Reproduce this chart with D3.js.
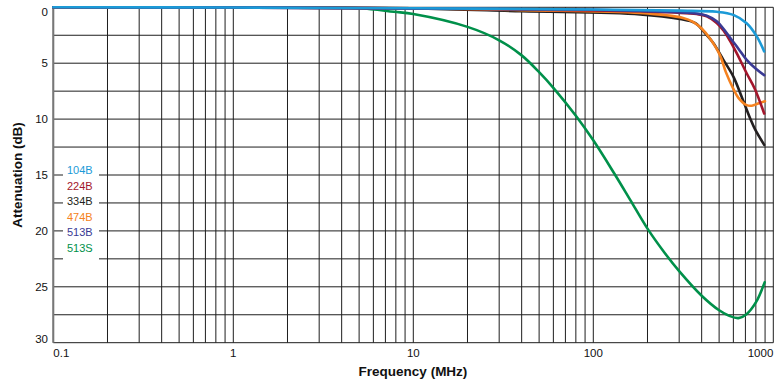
<!DOCTYPE html>
<html>
<head>
<meta charset="utf-8">
<script src="https://cdn.jsdelivr.net/npm/d3@7"></script>
<style>
  html, body { margin: 0; padding: 0; background: #fff; }
  svg { display: block; font-family: "Liberation Sans", Arial, sans-serif; }
</style>
</head>
<body>
<svg id="chart" width="784" height="386"></svg>
<script>
// ---------- data ----------
const xTickValues = [0.1, 1, 10, 100, 1000];
const xTickLabels = ["0.1", "1", "10", "100", "1000"];
const yTickValues = [0, 5, 10, 15, 20, 25, 30];
const yGridValues = [0, 2.5, 5, 7.5, 10, 12.5, 15, 17.5, 20, 22.5, 25, 27.5, 30];

const seriesNames = ["104B", "224B", "334B", "474B", "513B", "513S"];
const seriesColors = ["#1b9ad7", "#a3162c", "#231f20", "#f58220", "#3a3a94", "#00904a"];

// [frequency MHz, attenuation dB]
const s104B = [[0.1,0],[1,0.02],[10,0.08],[100,0.2],[300,0.3],[485,0.4],[600,0.68],[711,1.43],[809,2.6],[890,3.95]];
const s224B = [[0.1,0],[1,0.02],[10,0.1],[100,0.28],[182,0.36],[375,0.6],[427,0.8],[485,1.4],[530,2.1],[575,3.0],[626,4.1],[711,5.9],[790,7.3],[890,9.5]];
const s334B = [[0.1,0],[1,0.02],[10,0.1],[40,0.35],[182,0.63],[303,1.05],[367,1.4],[427,2.5],[464,3.2],[528,4.7],[600,6.2],[667,8.0],[742,9.9],[791,10.9],[890,12.3]];
const s474B = [[0.1,0],[1,0.02],[10,0.08],[40,0.25],[182,0.5],[315,0.95],[358,1.3],[400,1.9],[445,2.8],[506,4.3],[545,5.8],[600,7.3],[640,8.1],[711,8.75],[760,8.8],[825,8.6],[899,8.4]];
const s513B = [[0.1,0],[1,0.02],[10,0.1],[100,0.22],[182,0.33],[344,0.5],[427,0.75],[485,1.25],[530,1.95],[580,2.8],[640,3.7],[711,4.7],[800,5.5],[890,6.07]];
const s513S = [[0.1,0],[1,0],[3,0.01],[5.1,0.08],[7.8,0.4],[10,0.6],[20,1.75],[30,2.95],[40,4.3],[50,5.8],[60,7.2],[80,9.7],[100,11.9],[130,14.8],[160,17.2],[200,19.8],[250,22.0],[300,23.6],[400,25.8],[500,27.1],[570,27.6],[640,27.8],[710,27.45],[800,26.4],[895,24.6]];

const seriesData = [s104B, s224B, s334B, s474B, s513B, s513S];

// ---------- layout ----------
const svg = d3.select("#chart");
const x = d3.scaleLog().domain([0.1, 1000]).range([53.3, 773.3]);
const y = d3.scaleLinear().domain([0, 30]).range([7.3, 342.7]);

// minor/major vertical grid values
const vGrid = [];
for (let d = 0.1; d < 1000; d *= 10) {
  for (let k = 1; k <= 9; k++) vGrid.push(+(d * k).toPrecision(3));
}
vGrid.push(1000);

const gridColor = "#1e1e1e";
const grid = svg.append("g");
grid.selectAll("line.v").data(vGrid).join("line")
  .attr("x1", d => x(d)).attr("x2", d => x(d))
  .attr("y1", y(0)).attr("y2", y(30))
  .attr("stroke", gridColor).attr("stroke-width", 1);
grid.selectAll("line.h").data(yGridValues).join("line")
  .attr("x1", x(0.1)).attr("x2", x(1000))
  .attr("y1", d => y(d)).attr("y2", d => y(d))
  .attr("stroke", gridColor).attr("stroke-width", 1);

// left axis line (gray, a bit thicker)
svg.append("line")
  .attr("x1", x(0.1)).attr("x2", x(0.1)).attr("y1", y(0)).attr("y2", y(30))
  .attr("stroke", "#777").attr("stroke-width", 2);

// Y tick labels
svg.append("g").selectAll("text").data(yTickValues).join("text")
  .attr("x", 48)
  .attr("y", d => y(d))
  .attr("dy", (d, i) => i === 0 ? "0.75em" : (i === yTickValues.length - 1 ? "0.05em" : "0.35em"))
  .attr("text-anchor", "end")
  .attr("font-size", 11.5)
  .attr("fill", "#111")
  .text(d => d);

// X tick labels
svg.append("g").selectAll("text").data(xTickValues).join("text")
  .attr("x", d => x(d))
  .attr("y", 357)
  .attr("text-anchor", (d, i) => i === 0 ? "start" : (i === xTickValues.length - 1 ? "end" : "middle"))
  .attr("font-size", 11.5)
  .attr("fill", "#111")
  .text((d, i) => xTickLabels[i]);

// Axis titles
svg.append("text")
  .attr("x", 413).attr("y", 376)
  .attr("text-anchor", "middle")
  .attr("font-size", 13.5).attr("font-weight", "bold").attr("fill", "#111")
  .text("Frequency (MHz)");
svg.append("text")
  .attr("transform", "translate(22,175) rotate(-90)")
  .attr("text-anchor", "middle")
  .attr("font-size", 13.5).attr("font-weight", "bold").attr("fill", "#111")
  .text("Attenuation (dB)");

// Curves
const line = d3.line()
  .x(d => x(d[0]))
  .y(d => y(d[1]))
  .curve(d3.curveCatmullRom.alpha(0.5));

const drawOrder = [5, 2, 3, 1, 4, 0];
svg.append("g").selectAll("path").data(drawOrder).join("path")
  .attr("d", i => line(seriesData[i]))
  .attr("fill", "none")
  .attr("stroke", i => seriesColors[i])
  .attr("stroke-width", 2.6)
  .attr("stroke-linejoin", "round")
  .attr("stroke-linecap", "round");

// Legend
const legend = svg.append("g");
legend.append("rect")
  .attr("x", 63).attr("y", 157).attr("width", 36).attr("height", 106)
  .attr("fill", "#fff");
legend.selectAll("text").data(seriesNames).join("text")
  .attr("x", 67)
  .attr("y", (d, i) => 174 + i * 15.6)
  .attr("font-size", 11)
  .attr("fill", (d, i) => seriesColors[i])
  .text(d => d);
</script>
</body>
</html>
